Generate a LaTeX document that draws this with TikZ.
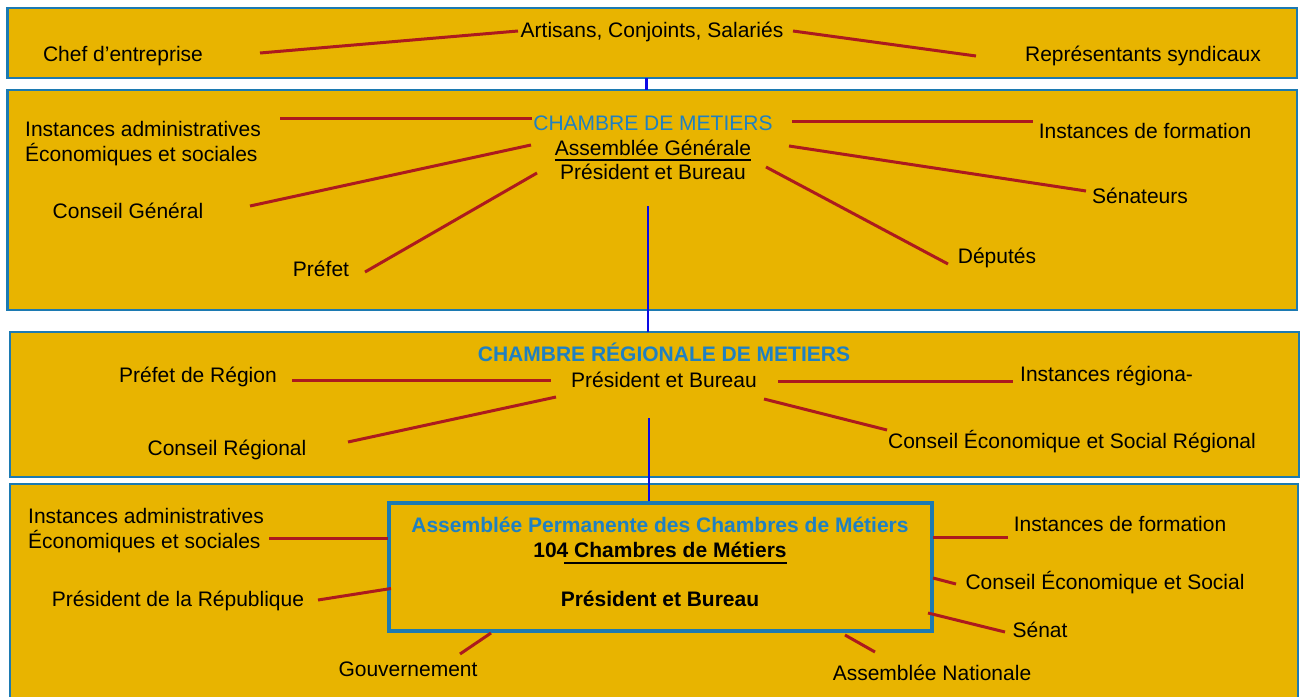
\documentclass[tikz,border=0pt]{standalone}
\usepackage{fontspec}
\setmainfont{Liberation Sans}
\definecolor{gold}{HTML}{E8B400}
\definecolor{bandblue}{HTML}{1C7AB2}
\definecolor{txtblue}{HTML}{1F80C2}
\definecolor{linkred}{HTML}{AC1A1E}
\definecolor{vblue}{HTML}{0A0AE6}
\tikzset{
  band/.style={draw=bandblue, line width=2.5pt, fill=gold},
  inbox/.style={draw=bandblue, line width=4.5pt, fill=gold},
  lbl/.style={inner sep=0pt, anchor=base, font=\fontsize{21}{25}\selectfont},
  lbll/.style={inner sep=0pt, anchor=west, align=left, font=\fontsize{21}{25}\selectfont},
  link/.style={draw=linkred, line width=3pt},
  vlink/.style={draw=vblue, line width=2.4pt},
  uline/.style={draw=black, line width=2pt}
}
\begin{document}
\begin{tikzpicture}[x=1pt,y=-1pt]
\useasboundingbox (0,0) rectangle (1303,696);
% bands
\draw[band] (7.5,8) rectangle (1297,78);
\draw[band] (7.5,90) rectangle (1297,310);
\draw[band] (10,332) rectangle (1299,477);
\draw[band] (10,484) rectangle (1298,720);

% vertical blue connectors
\coordinate (v1a) at (646.5,78);
\coordinate (v1b) at (646.5,90);
\coordinate (v2a) at (648,206);
\coordinate (v2b) at (648,332);
\coordinate (v3a) at (649,418);
\coordinate (v3b) at (649,503);
\draw[vlink] (v1a) -- (v1b);
\draw[vlink] (v2a) -- (v2b);
\draw[vlink] (v3a) -- (v3b);

% inner box
\node[inbox, minimum width=543pt, minimum height=128pt, inner sep=0pt] (apbox) at (660.5,567) {};

% band 1
\node[lbl] (art) at (652,37.5) {Artisans, Conjoints, Salariés};
\node[lbl] (chef) at (123,61.5) {Chef d’entreprise};
\node[lbl] (rep) at (1143,61.5) {Représentants syndicaux};

% band 2
\node[lbl, text=txtblue] (cdm) at (653,130.5) {CHAMBRE DE METIERS};
\node[lbl] (ag) at (653,155.5) {Assemblée Générale};
\draw[uline] ([yshift=-4pt]ag.base west) -- ([yshift=-4pt]ag.base east);
\node[lbl] (pb2) at (653,179.5) {Président et Bureau};
\node[lbll] (ia2) at (25,143.5) {Instances administratives\\Économiques et sociales};
\node[lbl] (cg) at (128,218.5) {Conseil Général};
\node[lbl] (pref) at (321,276.5) {Préfet};
\node[lbl] (if2) at (1145,138.5) {Instances de formation};
\node[lbl] (sen) at (1140,203.5) {Sénateurs};
\node[lbl] (dep) at (997,263.5) {Députés};

% band 3
\node[lbl, text=txtblue, font=\fontsize{21}{25}\selectfont\bfseries] (crm) at (664,361.5) {CHAMBRE RÉGIONALE DE METIERS};
\node[lbl] (pb3) at (664,387.5) {Président et Bureau};
\node[lbl] (pr) at (198,382.5) {Préfet de Région};
\node[lbl] (cr) at (227,455.5) {Conseil Régional};
\node[lbll] (ir) at (1020,376) {Instances régiona-};
\node[lbl] (cesr) at (1072,448.5) {Conseil Économique et Social Régional};

% band 4
\node[lbl, text=txtblue, font=\fontsize{21}{25}\selectfont\bfseries] (apcm) at (660,532.5) {Assemblée Permanente des Chambres de Métiers};
\node[lbl, font=\fontsize{21}{25}\selectfont\bfseries] (c104) at (660,557.5) {104 Chambres de Métiers};
\draw[uline] ([xshift=31pt,yshift=-5pt]c104.base west) -- ([yshift=-5pt]c104.base east);
\node[lbl, font=\fontsize{21}{25}\selectfont\bfseries] (pb4) at (660,606.5) {Président et Bureau};
\node[lbll] (ia4) at (28,530.5) {Instances administratives\\Économiques et sociales};
\node[lbl] (pdr) at (178,606.5) {Président de la République};
\node[lbl] (gouv) at (408,676.5) {Gouvernement};
\node[lbl] (if4) at (1120,531.5) {Instances de formation};
\node[lbl] (ces) at (1105,589.5) {Conseil Économique et Social};
\node[lbl] (senat) at (1040,637.5) {Sénat};
\node[lbl] (an) at (932,680.5) {Assemblée Nationale};

% red link end points
\coordinate (a1) at (260,53);   \coordinate (b1) at (518,31);
\coordinate (a2) at (793,31);   \coordinate (b2) at (976,56);
\coordinate (a3) at (280,118.5);\coordinate (b3) at (532,118.5);
\coordinate (a4) at (250,206);  \coordinate (b4) at (531,145);
\coordinate (a5) at (365,272);  \coordinate (b5) at (537,173);
\coordinate (a6) at (792,121);  \coordinate (b6) at (1033,121);
\coordinate (a7) at (789,146);  \coordinate (b7) at (1086,191);
\coordinate (a8) at (766,167);  \coordinate (b8) at (948,264);
\coordinate (a9) at (292,380);  \coordinate (b9) at (551,380);
\coordinate (a10) at (348,442); \coordinate (b10) at (556,397);
\coordinate (a11) at (778,381.5);\coordinate (b11) at (1013,381.5);
\coordinate (a12) at (764,399); \coordinate (b12) at (887,430);
\coordinate (a13) at (269,538); \coordinate (b13) at (388,538);
\coordinate (a14) at (318,600); \coordinate (b14) at (391,588.5);
\coordinate (a15) at (491,633); \coordinate (b15) at (460,654);
\coordinate (a16) at (933,537); \coordinate (b16) at (1008,537);
\coordinate (a17) at (933,578); \coordinate (b17) at (956,584);
\coordinate (a18) at (928,613); \coordinate (b18) at (1005,632);
\coordinate (a19) at (845,635); \coordinate (b19) at (875,652);
\foreach \i in {1,...,19} {\draw[link] (a\i) -- (b\i);}
\end{tikzpicture}
\end{document}
